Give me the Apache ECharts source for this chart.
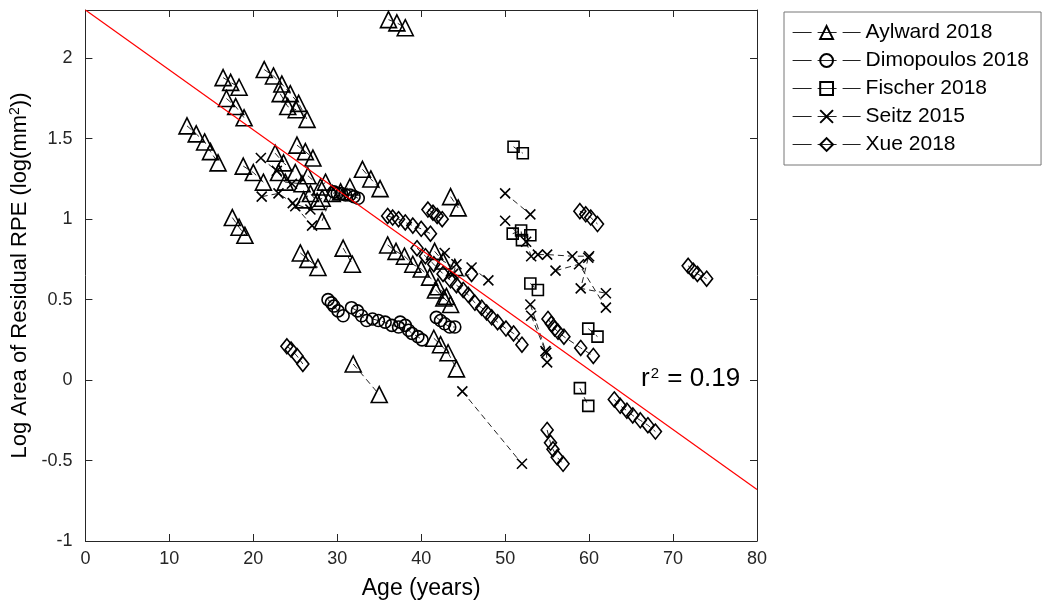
<!DOCTYPE html>
<html>
<head>
<meta charset="utf-8">
<script src="https://cdn.jsdelivr.net/npm/echarts@6/dist/echarts.min.js"></script>
<style>
  html, body { margin: 0; padding: 0; background: #fff; }
  #chart { width: 1050px; height: 609px; }
</style>
</head>
<body>
<div id="chart"></div>
<script>
// one inner array per subject: [age, log area]
const aylward = [
  [[12.1, 1.58], [13.2, 1.53], [14.2, 1.48], [14.9, 1.42], [15.8, 1.35]],
  [[16.4, 1.88], [17.3, 1.85], [18.3, 1.82]],
  [[16.8, 1.75], [17.9, 1.70], [18.9, 1.63]],
  [[21.3, 1.93], [22.4, 1.89], [23.4, 1.84], [24.4, 1.78], [25.4, 1.72], [26.4, 1.62]],
  [[23.2, 1.78], [24.1, 1.70], [25.1, 1.68]],
  [[25.2, 1.46], [26.2, 1.42], [27.1, 1.38]],
  [[17.5, 1.01], [18.3, 0.95], [19.0, 0.90]],
  [[25.6, 0.79], [26.5, 0.75], [27.7, 0.70]],
  [[36.1, 2.24], [37.1, 2.22], [38.1, 2.19]],
  [[33.0, 1.31], [34.0, 1.25], [35.1, 1.19]],
  [[43.5, 1.14], [44.4, 1.07]],
  [[30.7, 0.82], [31.8, 0.72]],
  [[31.9, 0.10], [35.0, -0.09]],
  [[36.0, 0.84], [37.0, 0.80], [38.0, 0.77], [39.0, 0.72], [40.0, 0.69], [41.0, 0.64], [42.0, 0.58], [43.0, 0.52]],
  [[41.6, 0.80], [42.6, 0.74], [44.0, 0.70]],
  [[41.7, 0.56], [42.7, 0.51], [43.5, 0.47]],
  [[41.5, 0.26], [42.3, 0.22], [43.2, 0.17], [44.2, 0.07]],
  [[18.8, 1.33], [20.0, 1.29], [21.2, 1.23]],
  [[22.6, 1.41], [23.6, 1.35], [25.0, 1.29]],
  [[23.0, 1.29], [23.8, 1.23], [25.8, 1.22]],
  [[26.5, 1.27], [28.0, 1.20], [28.6, 1.23]],
  [[26.0, 1.12], [26.8, 1.16], [27.6, 1.11], [28.2, 1.13]],
  [[28.2, 0.99], [29.4, 1.16], [30.4, 1.17], [31.5, 1.20]]
];
const dimopoulos = [
  [[28.9, 0.50], [29.3, 0.48], [29.6, 0.46], [30.1, 0.43], [30.7, 0.40]],
  [[31.7, 0.45], [32.4, 0.43], [32.9, 0.40], [33.5, 0.37]],
  [[34.2, 0.38], [34.9, 0.37], [35.7, 0.36], [36.5, 0.34], [37.3, 0.33]],
  [[37.5, 0.36], [38.1, 0.34], [38.5, 0.31], [38.9, 0.29], [39.6, 0.27], [40.1, 0.25]],
  [[41.8, 0.39], [42.3, 0.37], [42.8, 0.35], [43.4, 0.33], [44.0, 0.33]],
  [[29.6, 1.17], [30.0, 1.16], [30.5, 1.16], [31.0, 1.15], [31.5, 1.15], [32.0, 1.14], [32.5, 1.13]]
];
const fischer = [
  [[51.0, 1.45], [52.1, 1.41]],
  [[50.9, 0.91], [51.9, 0.93], [52.0, 0.87], [53.0, 0.90]],
  [[53.0, 0.60], [53.9, 0.56]],
  [[59.9, 0.32], [61.0, 0.27]],
  [[58.9, -0.05], [59.9, -0.16]]
];
const seitz = [
  [[50.0, 1.16], [53.0, 1.03]],
  [[50.0, 0.99], [52.5, 0.86], [53.1, 0.77]],
  [[53.9, 0.78], [55.0, 0.78], [58.0, 0.77], [60.0, 0.77]],
  [[56.0, 0.68], [58.8, 0.72], [62.0, 0.45]],
  [[59.9, 0.76], [59.0, 0.57], [62.0, 0.54]],
  [[53.0, 0.47], [54.9, 0.17], [55.0, 0.11]],
  [[53.1, 0.40], [54.8, 0.18]],
  [[44.9, -0.07], [52.0, -0.52]],
  [[46.0, 0.70], [48.0, 0.62]],
  [[42.8, 0.79], [44.2, 0.72], [43.8, 0.66]],
  [[21.0, 1.14], [23.0, 1.16], [24.7, 1.10], [26.8, 1.06]],
  [[20.9, 1.38], [22.8, 1.30], [24.6, 1.22]],
  [[25.0, 1.08], [27.0, 0.96]]
];
const xue = [
  [[24.0, 0.21], [24.5, 0.19], [25.2, 0.15], [25.9, 0.10]],
  [[36.0, 1.02], [36.6, 1.01], [37.3, 1.00], [38.1, 0.98], [39.0, 0.96], [40.0, 0.94], [41.1, 0.91]],
  [[40.8, 1.06], [41.4, 1.04], [41.9, 1.02], [42.5, 1.00]],
  [[44.2, 0.59], [45.0, 0.56], [45.6, 0.53], [46.4, 0.48], [47.2, 0.45], [47.8, 0.42], [48.4, 0.39], [49.1, 0.36], [50.1, 0.32], [51.0, 0.29], [52.0, 0.22]],
  [[39.5, 0.82], [40.5, 0.77], [41.5, 0.72], [42.6, 0.66], [43.5, 0.62], [46.0, 0.66]],
  [[55.1, 0.38], [55.5, 0.35], [55.9, 0.32], [56.3, 0.30], [57.0, 0.27], [59.0, 0.20], [60.5, 0.15]],
  [[55.0, -0.31], [55.4, -0.39], [55.7, -0.43], [56.2, -0.48], [56.9, -0.52]],
  [[58.9, 1.05], [59.6, 1.03], [60.2, 1.01], [61.0, 0.97]],
  [[71.8, 0.71], [72.4, 0.68], [72.9, 0.66], [74.0, 0.63]],
  [[63.0, -0.12], [63.7, -0.16], [64.5, -0.19], [65.2, -0.22], [66.1, -0.25], [67.0, -0.28], [67.9, -0.32]]
];
// regression line end points
const fitLine = [[0, 2.3], [80, -0.68]];
const xTicks = [0, 10, 20, 30, 40, 50, 60, 70, 80];
const yTicks = [-1, -0.5, 0, 0.5, 1, 1.5, 2];

const chart = echarts.init(document.getElementById('chart'));
const axisCol = '#262626';
const font = 'Liberation Sans, Arial, sans-serif';

const studies = [
  { name: 'Aylward 2018', groups: aylward, symbol: 'triangle', size: 16 },
  { name: 'Dimopoulos 2018', groups: dimopoulos, symbol: 'circle', size: 12 },
  { name: 'Fischer 2018', groups: fischer, symbol: 'rect', size: 11 },
  { name: 'Seitz 2015', groups: seitz, symbol: 'path://M0,0L10,10M10,0L0,10', size: 10 },
  { name: 'Xue 2018', groups: xue, symbol: 'diamond', size: [12, 15] }
];

const series = [];
studies.forEach(st => {
  st.groups.forEach(g => {
    series.push({
      name: st.name,
      type: 'line',
      data: g,
      symbol: st.symbol,
      symbolSize: st.size,
      symbolKeepAspect: true,
      showAllSymbol: true,
      itemStyle: { color: 'rgba(0,0,0,0)', borderColor: '#000', borderWidth: 1.6 },
      lineStyle: { color: '#222', width: 1, type: [6, 4] },
      emphasis: { disabled: true },
      z: 2
    });
  });
});
series.push({
  name: 'fit',
  type: 'line',
  data: fitLine,
  symbol: 'none',
  lineStyle: { color: '#ff0000', width: 1.2 },
  z: 3
});

const tickFmt = v => (xTicks.indexOf(v) >= 0 ? String(v) : '');
const yFmt = v => (yTicks.some(t => Math.abs(t - v) < 1e-6) ? String(v) : '');

chart.setOption({
  animation: false,
  backgroundColor: '#fff',
  textStyle: { fontFamily: font },
  grid: { left: 85, right: 293, top: 10, bottom: 68 },
  legend: {
    data: studies.map(s => s.name),
    orient: 'vertical',
    left: 784,
    top: 12,
    padding: [10, 12, 10, 8],
    itemWidth: 68,
    itemHeight: 16,
    itemGap: 7,
    borderColor: '#777',
    borderWidth: 1,
    backgroundColor: '#fff',
    lineStyle: { type: [19, 6], color: '#222', width: 1.2 },
    textStyle: { fontSize: 21, color: '#000', fontFamily: font, lineHeight: 21 }
  },
  xAxis: [{
    type: 'value', min: 0, max: 80, interval: 10,
    name: 'Age (years)', nameLocation: 'middle', nameGap: 36,
    nameTextStyle: { fontSize: 23, color: '#000', fontFamily: font },
    axisLine: { onZero: false, lineStyle: { color: axisCol } },
    axisTick: { inside: true, length: 7, lineStyle: { color: axisCol } },
    axisLabel: { fontSize: 18, color: axisCol, formatter: tickFmt, margin: 9 },
    splitLine: { show: false }
  }, {
    type: 'value', min: 0, max: 80, interval: 10, position: 'top',
    axisLine: { onZero: false, lineStyle: { color: axisCol } },
    axisTick: { inside: true, length: 7, lineStyle: { color: axisCol } },
    axisLabel: { show: false },
    splitLine: { show: false }
  }],
  yAxis: [{
    type: 'value', min: -1, max: 2.3, interval: 0.5,
    name: '{t|Log Area of Residual RPE (log(mm}{s|2}{t|))}',
    nameLocation: 'middle', nameGap: 51, nameRotate: 90,
    nameTextStyle: {
      color: '#000', fontFamily: font,
      rich: {
        t: { fontSize: 22, color: '#000', fontFamily: font },
        s: { fontSize: 14, color: '#000', fontFamily: font, verticalAlign: 'top', padding: [0, 0, 9, 0] }
      }
    },
    axisLine: { onZero: false, lineStyle: { color: axisCol } },
    axisTick: { inside: true, length: 7, lineStyle: { color: axisCol } },
    axisLabel: { fontSize: 18, color: axisCol, formatter: yFmt, margin: 13, showMaxLabel: false },
    splitLine: { show: false }
  }, {
    type: 'value', min: -1, max: 2.3, interval: 0.5, position: 'right',
    axisLine: { onZero: false, lineStyle: { color: axisCol } },
    axisTick: { inside: true, length: 7, lineStyle: { color: axisCol } },
    axisLabel: { show: false },
    splitLine: { show: false }
  }],
  graphic: [{
    type: 'text',
    left: 641,
    top: 366,
    style: {
      text: '{a|r}{b|2}{a| = 0.19}',
      rich: {
        a: { fontSize: 26, fill: '#000', fontFamily: font },
        b: { fontSize: 15, fill: '#000', fontFamily: font, verticalAlign: 'top', padding: [0, 1, 11, 1] }
      }
    },
    z: 10
  }],
  series: series
});
</script>
</body>
</html>
